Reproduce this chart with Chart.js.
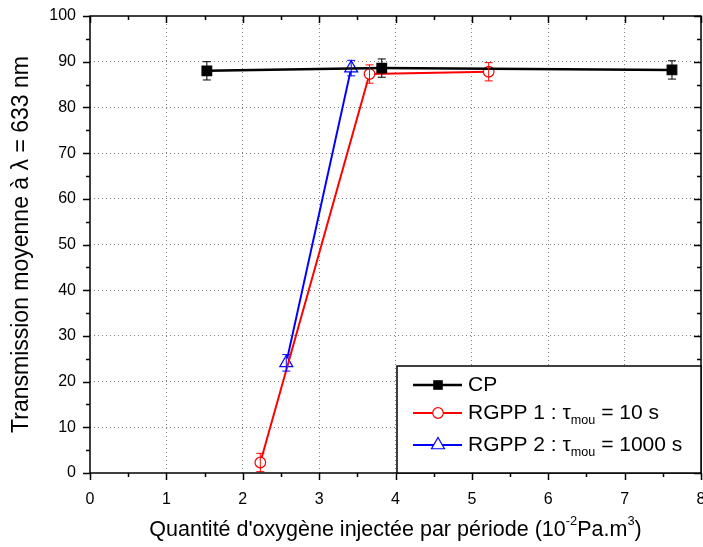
<!DOCTYPE html>
<html>
<head>
<meta charset="utf-8">
<script src="https://cdn.jsdelivr.net/npm/chart.js@4.4.1/dist/chart.umd.min.js"></script>
<style>
  html, body { margin: 0; padding: 0; background: #fff; }
  #wrap { width: 703px; height: 547px; }
</style>
</head>
<body>
<div id="wrap"><canvas id="chart" width="703" height="547"></canvas></div>
<script>
// values
const cpX = [1.53, 3.82, 7.62];
const cpY = [88.0, 88.6, 88.2];
const cpErr = [2.0, 2.0, 2.0];

const rgpp1X = [2.23, 3.66, 5.22];
const rgpp1Y = [2.3, 87.3, 87.8];
const rgpp1Err = [2.0, 2.0, 2.0];

const rgpp2X = [2.57, 3.42];
const rgpp2Y = [24.1, 88.6];
const rgpp2Err = [1.8, 1.7];

const xTicks = [0, 1, 2, 3, 4, 5, 6, 7, 8];
const yTicks = [0, 10, 20, 30, 40, 50, 60, 70, 80, 90, 100];

const FONT = '"Liberation Sans", Arial, sans-serif';

function pts(xs, ys) {
  return xs.map((x, i) => ({ x: x, y: ys[i] }));
}

const series = [
  { label: 'CP', x: cpX, y: cpY, err: cpErr, color: '#000000', style: 'rect', radius: 6.8, fill: '#000000', width: 2.5, sub: null, rest: '' },
  { label: 'RGPP 1 : \u03c4', x: rgpp1X, y: rgpp1Y, err: rgpp1Err, color: '#ff0000', style: 'circle', radius: 5.3, fill: '#ffffff', width: 2, sub: 'mou', rest: ' = 10 s' },
  { label: 'RGPP 2 : \u03c4', x: rgpp2X, y: rgpp2Y, err: rgpp2Err, color: '#0000ff', style: 'triangle', radius: 7.5, fill: '#ffffff', width: 2, sub: 'mou', rest: ' = 1000 s' }
];

// error bars drawn through the chart scales
const errorBars = {
  id: 'errorBars',
  afterDatasetsDraw(chart) {
    const ctx = chart.ctx;
    const xs = chart.scales.x, ys = chart.scales.y;
    ctx.save();
    ctx.lineWidth = 1;
    series.forEach(s => {
      ctx.strokeStyle = s.color;
      s.x.forEach((xv, i) => {
        const px = xs.getPixelForValue(xv);
        const top = ys.getPixelForValue(s.y[i] + s.err[i]);
        const bot = ys.getPixelForValue(s.y[i] - s.err[i]);
        ctx.beginPath();
        ctx.moveTo(px, top); ctx.lineTo(px, bot);
        ctx.moveTo(px - 4, top); ctx.lineTo(px + 4, top);
        ctx.moveTo(px - 4, bot); ctx.lineTo(px + 4, bot);
        ctx.stroke();
      });
    });
    ctx.restore();
  }
};

// frame, major/minor ticks on all four sides
const frameTicks = {
  id: 'frameTicks',
  afterDraw(chart) {
    const ctx = chart.ctx;
    const a = chart.chartArea;
    const xs = chart.scales.x, ys = chart.scales.y;
    ctx.save();
    ctx.strokeStyle = '#000';
    ctx.lineWidth = 1.5;
    ctx.strokeRect(a.left, a.top, a.right - a.left, a.bottom - a.top);
    ctx.beginPath();
    for (let v = 0; v <= 8.001; v += 0.5) {
      const px = Math.round(xs.getPixelForValue(v)) + 0.5;
      const major = Math.abs(v - Math.round(v)) < 1e-6;
      const len = major ? 7 : 4;
      ctx.moveTo(px, a.bottom); ctx.lineTo(px, a.bottom + len);
      ctx.moveTo(px, a.top); ctx.lineTo(px, a.top + len);
    }
    for (let v = 0; v <= 100.001; v += 5) {
      const py = Math.round(ys.getPixelForValue(v)) + 0.5;
      const major = v % 10 === 0;
      const len = major ? 7 : 4;
      ctx.moveTo(a.left, py); ctx.lineTo(a.left - len, py);
      ctx.moveTo(a.right, py); ctx.lineTo(a.right - len, py);
    }
    ctx.stroke();
    ctx.restore();
  }
};

// legend and x title with sub/superscripts
function richText(ctx, parts, x, y, size) {
  let cx = x;
  parts.forEach(p => {
    const fs = p.k ? size * 0.6 : size;
    ctx.font = fs + 'px ' + FONT;
    const dy = p.k === 'sub' ? size * 0.35 : (p.k === 'sup' ? -size * 0.42 : 0);
    ctx.fillText(p.t, cx, y + dy);
    cx += ctx.measureText(p.t).width;
  });
  return cx - x;
}
function richWidth(ctx, parts, size) {
  let w = 0;
  parts.forEach(p => {
    ctx.font = (p.k ? size * 0.6 : size) + 'px ' + FONT;
    w += ctx.measureText(p.t).width;
  });
  return w;
}

const customText = {
  id: 'customText',
  afterDraw(chart) {
    const ctx = chart.ctx;
    const a = chart.chartArea;
    ctx.save();
    ctx.fillStyle = '#000';
    ctx.textBaseline = 'middle';
    ctx.textAlign = 'left';

    // x axis title
    const title = [
      { t: 'Quantit\u00e9 d\'oxyg\u00e8ne inject\u00e9e par p\u00e9riode (10' },
      { t: '-2', k: 'sup' },
      { t: 'Pa.m' },
      { t: '3', k: 'sup' },
      { t: ')' }
    ];
    const tsize = 21.5;
    const tw = richWidth(ctx, title, tsize);
    richText(ctx, title, (a.left + a.right) / 2 - tw / 2, 530, tsize);

    // legend box
    const bx = 397, by = 366;
    ctx.lineWidth = 1.5;
    ctx.strokeStyle = '#000';
    ctx.fillStyle = '#fff';
    ctx.fillRect(bx, by, a.right - bx, a.bottom - by);
    ctx.strokeRect(bx, by, a.right - bx, a.bottom - by);
    const rows = [385, 413, 445];
    series.forEach((s, i) => {
      const ry = rows[i];
      ctx.strokeStyle = s.color;
      ctx.lineWidth = s.width;
      ctx.beginPath();
      ctx.moveTo(413, ry); ctx.lineTo(462, ry);
      ctx.stroke();
      ctx.fillStyle = s.fill;
      ctx.lineWidth = 1.2;
      ctx.beginPath();
      if (s.style === 'rect') {
        ctx.fillStyle = s.color;
        ctx.fillRect(438 - 4.8, ry - 4.8, 9.6, 9.6);
      } else if (s.style === 'circle') {
        ctx.arc(438, ry, 5.3, 0, Math.PI * 2);
        ctx.fill(); ctx.stroke();
      } else {
        const r = 7.5;
        ctx.moveTo(438, ry - r);
        ctx.lineTo(438 + r * 0.866, ry + r / 2);
        ctx.lineTo(438 - r * 0.866, ry + r / 2);
        ctx.closePath();
        ctx.fill(); ctx.stroke();
      }
      ctx.fillStyle = '#000';
      const parts = [{ t: s.label }];
      if (s.sub) { parts.push({ t: s.sub, k: 'sub' }); parts.push({ t: s.rest }); }
      richText(ctx, parts, 468, ry, 21);
    });
    ctx.restore();
  }
};

const gridColor = (isEdge) => (c) => {
  const v = c.tick ? c.tick.value : 0;
  return isEdge(v) ? 'rgba(0,0,0,0)' : '#808080';
};

new Chart(document.getElementById('chart'), {
  type: 'line',
  data: {
    datasets: series.map(s => ({
      label: s.label,
      data: pts(s.x, s.y),
      borderColor: s.color,
      borderWidth: s.width,
      backgroundColor: s.fill,
      pointStyle: s.style,
      pointRadius: s.radius,
      pointBorderWidth: 1.2,
      pointBorderColor: s.color,
      pointBackgroundColor: s.fill,
      tension: 0,
      fill: false
    }))
  },
  options: {
    responsive: false,
    animation: false,
    events: [],
    layout: { autoPadding: false, padding: { top: 16, right: 2, left: 0, bottom: 0 } },
    plugins: {
      legend: { display: false },
      tooltip: { enabled: false }
    },
    scales: {
      x: {
        type: 'linear',
        min: 0, max: 8,
        afterFit: s => { s.height = 74; s.paddingLeft = 0; s.paddingRight = 0; },
        afterBuildTicks: s => { s.ticks = xTicks.map(v => ({ value: v })); },
        ticks: { font: { family: FONT, size: 16 }, color: '#000', padding: 17 },
        grid: {
          drawTicks: false,
          lineWidth: 1,
          color: gridColor(v => v === 0 || v === 8)
        },
        border: { display: false, dash: [1, 3] }
      },
      y: {
        min: 0, max: 100,
        afterFit: s => { s.width = 90; s.paddingTop = 0; s.paddingBottom = 0; },
        afterBuildTicks: s => { s.ticks = yTicks.map(v => ({ value: v })); },
        ticks: { font: { family: FONT, size: 16 }, color: '#000', padding: 14 },
        title: {
          display: true,
          text: 'Transmission moyenne \u00e0 \u03bb = 633 nm',
          font: { family: FONT, size: 23 },
          color: '#000',
          padding: { top: 8, bottom: 0 }
        },
        grid: {
          drawTicks: false,
          lineWidth: 1,
          color: gridColor(v => v === 0 || v === 100)
        },
        border: { display: false, dash: [1, 3] }
      }
    }
  },
  plugins: [errorBars, frameTicks, customText]
});
</script>
</body>
</html>
